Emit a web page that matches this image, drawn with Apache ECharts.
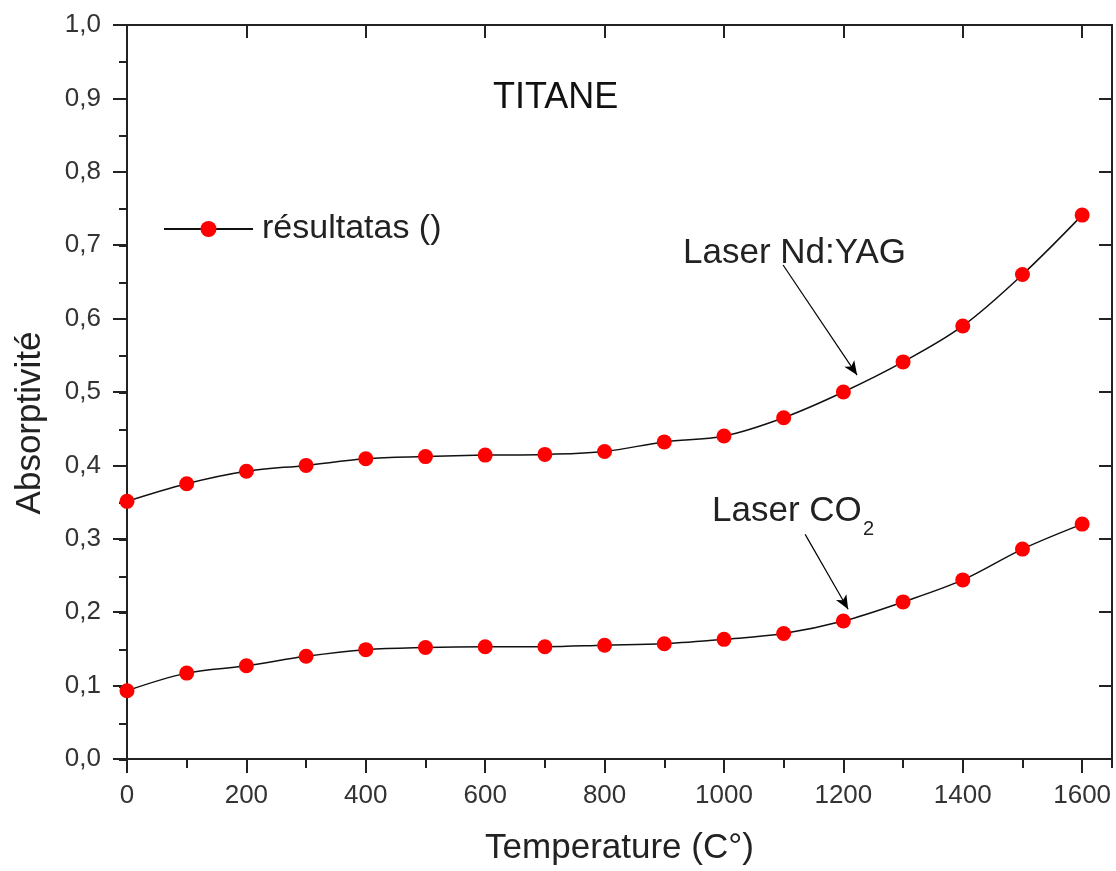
<!DOCTYPE html>
<html>
<head>
<meta charset="utf-8">
<script src="https://cdn.jsdelivr.net/npm/echarts@6/dist/echarts.min.js"></script>
<style>
  html, body { margin: 0; padding: 0; background: #fff; }
  #chart { width: 1116px; height: 871px; }
</style>
</head>
<body>
<div id="chart"></div>
<script>
// temperatures (C°)
var temps = [0, 100, 200, 300, 400, 500, 600, 700, 800, 900, 1000, 1100, 1200, 1300, 1400, 1500, 1600];
// absorptivité, laser Nd:YAG
var yagValues = [0.351, 0.375, 0.392, 0.400, 0.409, 0.412, 0.414, 0.415, 0.419, 0.432, 0.440, 0.465, 0.500, 0.541, 0.590, 0.660, 0.741];
// absorptivité, laser CO2
var co2Values = [0.093, 0.117, 0.127, 0.140, 0.149, 0.152, 0.153, 0.153, 0.155, 0.157, 0.163, 0.171, 0.188, 0.214, 0.244, 0.286, 0.320];
// arrows of the annotations, in data units [from, to]
var yagArrow = [[1099, 0.673], [1223, 0.523]];
var co2Arrow = [[1136, 0.306], [1208, 0.204]];

var seriesName = "résultatas ()";
var FONT = "Liberation Sans";

function pairs(xs, ys) {
  return xs.map(function (x, i) { return [x, ys[i]]; });
}

var gridRect = { left: 127, top: 25, width: 985, height: 735 };

var lineSeries = function (values, arrow) {
  return {
    name: seriesName,
    type: "line",
    xAxisIndex: 0,
    yAxisIndex: 0,
    data: pairs(temps, values),
    smooth: 0.35,
    symbol: "circle",
    symbolSize: 15,
    itemStyle: { color: "#ff0000" },
    lineStyle: { color: "#111", width: 1.5 },
    z: 3,
    markLine: {
      silent: true,
      symbol: ["none", "arrow"],
      symbolSize: [9, 14],
      label: { show: false },
      lineStyle: { color: "#000", width: 1.2, type: "solid" },
      data: [[{ coord: arrow[0] }, { coord: arrow[1] }]]
    }
  };
};

var chart = echarts.init(document.getElementById("chart"));
chart.setOption({
  backgroundColor: "#fff",
  animation: false,
  textStyle: { fontFamily: FONT },
  grid: [
    Object.assign({}, gridRect),
    Object.assign({}, gridRect)
  ],
  legend: {
    left: 158,
    top: 207,
    itemWidth: 89,
    itemHeight: 20,
    textStyle: { fontSize: 34, color: "#222", fontFamily: FONT, padding: [0, 0, 0, 4] },
    data: [seriesName]
  },
  xAxis: [
    { // bottom, major ticks + labels
      gridIndex: 0, type: "value", position: "bottom", min: 0, max: 1650, interval: 200,
      name: "Temperature (C°)", nameLocation: "middle", nameGap: 72,
      nameTextStyle: { fontSize: 35, color: "#222", fontFamily: FONT },
      axisLine: { onZero: false, lineStyle: { color: "#222", width: 2 } },
      axisTick: { inside: false, length: 14, lineStyle: { color: "#222", width: 2 } },
      axisLabel: {
        margin: 24, fontSize: 26, color: "#333", showMaxLabel: false,
        formatter: function (v) { return String(v); }
      },
      splitLine: { show: false }
    },
    { // top, major ticks inside
      gridIndex: 0, type: "value", position: "top", min: 0, max: 1650, interval: 200,
      axisLine: { onZero: false, lineStyle: { color: "#222", width: 2 } },
      axisTick: { inside: true, length: 13, lineStyle: { color: "#222", width: 2 } },
      axisLabel: { show: false },
      splitLine: { show: false }
    },
    { // bottom minor
      gridIndex: 1, type: "value", position: "bottom", min: 0, max: 1650, interval: 100,
      axisLine: { show: false },
      axisTick: { inside: false, length: 8, lineStyle: { color: "#222", width: 2 } },
      axisLabel: { show: false },
      splitLine: { show: false }
    },
    { // top minor
      gridIndex: 1, type: "value", position: "top", min: 0, max: 1650, interval: 100,
      axisLine: { show: false },
      axisTick: { inside: true, length: 8, lineStyle: { color: "#222", width: 2 } },
      axisLabel: { show: false },
      splitLine: { show: false }
    }
  ],
  yAxis: [
    {
      gridIndex: 0, type: "value", position: "left", min: 0, max: 1, interval: 0.1,
      axisLine: { onZero: false, lineStyle: { color: "#222", width: 2 } },
      axisTick: { inside: false, length: 14, lineStyle: { color: "#222", width: 2 } },
      axisLabel: {
        margin: 26, fontSize: 26, color: "#333",
        formatter: function (v) { return v.toFixed(1).replace(".", ","); }
      },
      splitLine: { show: false }
    },
    {
      gridIndex: 0, type: "value", position: "right", min: 0, max: 1, interval: 0.1,
      axisLine: { onZero: false, lineStyle: { color: "#222", width: 2 } },
      axisTick: { inside: true, length: 13, lineStyle: { color: "#222", width: 2 } },
      axisLabel: { show: false },
      splitLine: { show: false }
    },
    {
      gridIndex: 1, type: "value", position: "left", min: 0, max: 1, interval: 0.05,
      axisLine: { show: false },
      axisTick: { inside: false, length: 8, lineStyle: { color: "#222", width: 2 } },
      axisLabel: { show: false },
      splitLine: { show: false }
    },
    {
      gridIndex: 1, type: "value", position: "right", min: 0, max: 1, interval: 0.05,
      axisLine: { show: false },
      axisTick: { inside: true, length: 7, lineStyle: { color: "#222", width: 2 } },
      axisLabel: { show: false },
      splitLine: { show: false }
    }
  ],
  graphic: [
    { type: "text", x: 30, y: 423, rotation: Math.PI / 2,
      style: { text: "Absorptivité", font: "35px " + FONT, fill: "#222", textAlign: "center", textVerticalAlign: "middle" } },
    { type: "text", x: 493, y: 98,
      style: { text: "TITANE", font: "36px " + FONT, fill: "#111", textAlign: "left", textVerticalAlign: "middle" } },
    { type: "text", x: 683, y: 253,
      style: { text: "Laser Nd:YAG", font: "35px " + FONT, fill: "#222", textAlign: "left", textVerticalAlign: "middle" } },
    { type: "text", x: 712, y: 511,
      style: { text: "Laser CO", font: "35px " + FONT, fill: "#222", textAlign: "left", textVerticalAlign: "middle" } },
    { type: "text", x: 863, y: 529,
      style: { text: "2", font: "20px " + FONT, fill: "#222", textAlign: "left", textVerticalAlign: "middle" } }
  ],
  series: [
    lineSeries(yagValues, yagArrow),
    lineSeries(co2Values, co2Arrow)
  ]
});
</script>
</body>
</html>
